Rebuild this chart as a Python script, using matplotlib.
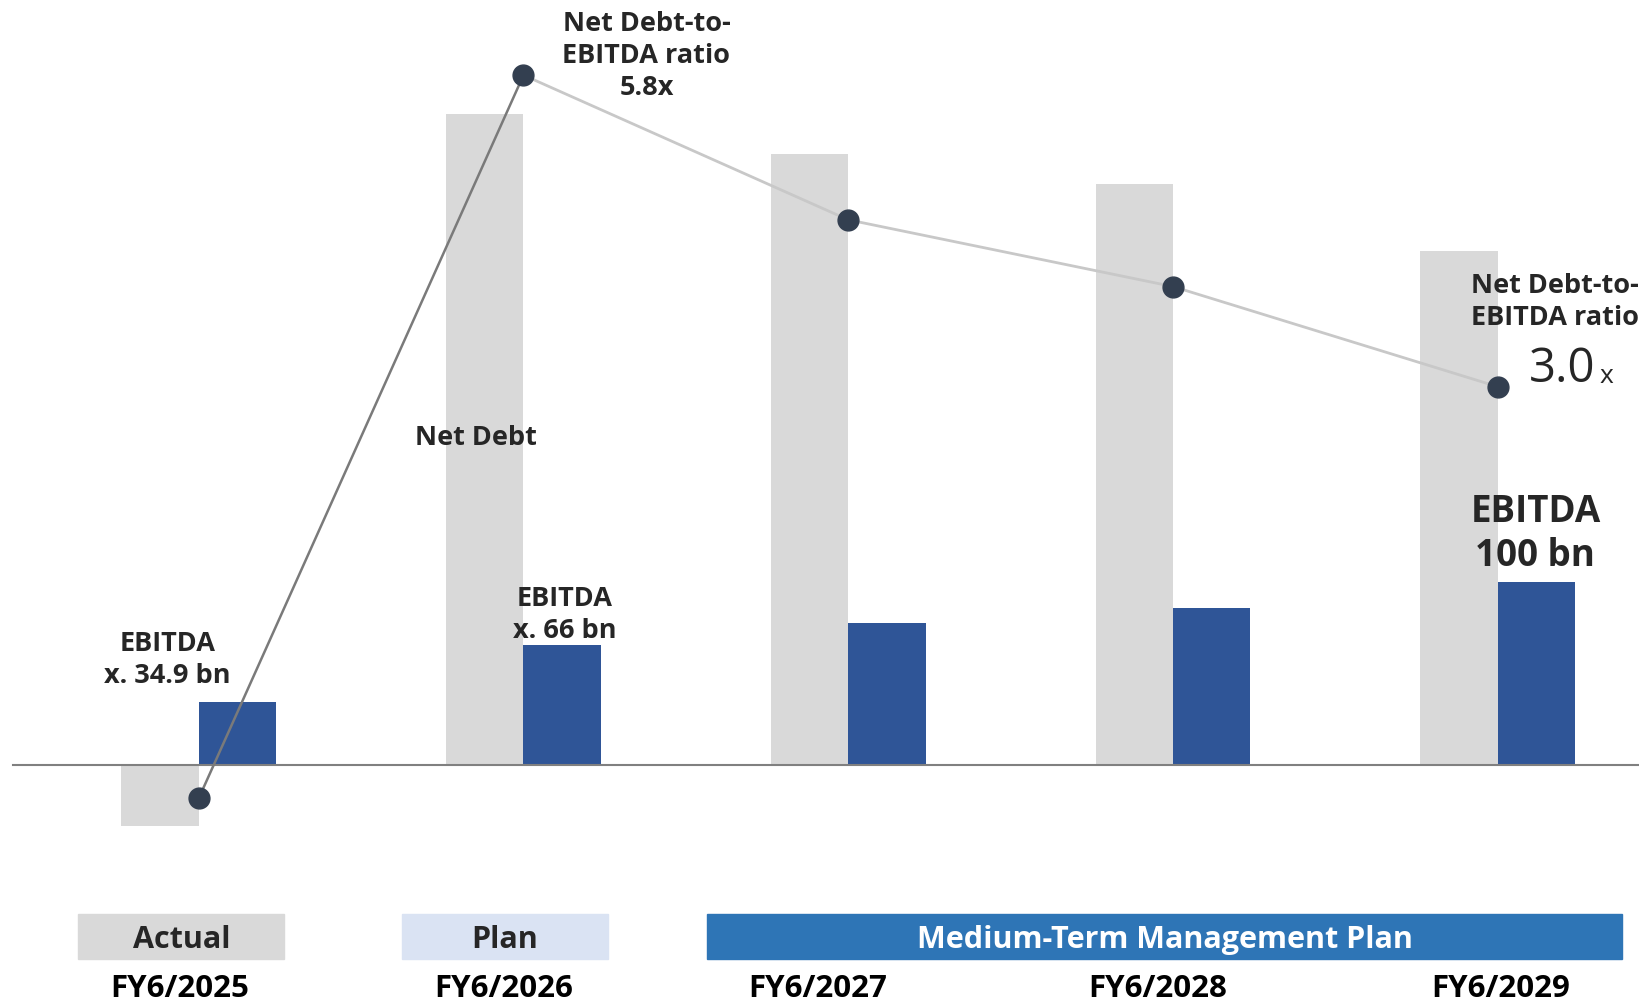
import matplotlib
matplotlib.use("Agg")
import matplotlib.pyplot as plt
from matplotlib.patches import Rectangle

plt.rcParams['font.family'] = ['Open Sans', 'DejaVu Sans']

years = ["FY6/2025", "FY6/2026", "FY6/2027", "FY6/2028", "FY6/2029"]
net_debt = [-33, 356, 334, 318, 281]        # bn
ebitda = [34.9, 66, 78, 86, 100]            # bn
ratio = [-0.7, 5.8, 4.5, 3.9, 3.0]          # x
phases = ["Actual", "Plan", "Medium-Term Management Plan"]

GRAY = "#d9d9d9"
BLUE = "#2f5597"
DOT = "#333f50"
TXT = "#262626"

W, H = 1568.0, 963.0   # design grid (displayed size)
fig = plt.figure(figsize=(16.4, 10.07), dpi=100)
ax = fig.add_axes([0, 0, 1, 1])
ax.set_axis_off()

x0, step, base, pxbn = 190.0, 310.5, 732.0, 1.75
ax.set_xlim((0 - x0) / step, (W - x0) / step)
ax.set_ylim((base - H) / pxbn, base / pxbn)

bw = 74 / step
xs = list(range(len(years)))
ax.bar([x - bw / 2 for x in xs], net_debt, width=bw, color=GRAY, zorder=2)
ax.bar([x + bw / 2 for x in xs], ebitda, width=bw, color=BLUE, zorder=2)
ax.axhline(0, xmin=12 / W, xmax=1, color="#808080", lw=1.5, zorder=3)

# ratio axis
ax2 = fig.add_axes([0, 0, 1, 1], sharex=ax)
ax2.set_axis_off()
ax2.patch.set_alpha(0)
r0, rpx = 689.0, 106.4
ax2.set_ylim((r0 - H) / rpx, r0 / rpx)
ax2.plot(xs[:2], ratio[:2], color="#7a7a7a", lw=1.8, zorder=4)
ax2.plot(xs[1:], ratio[1:], color="#c8c8c8", lw=2.0, zorder=4)
ax2.plot(xs, ratio, 'o', color=DOT, ms=15, zorder=5)

def X(px):
    return (px - x0) / step

def Y(py):
    return (base - py) / pxbn

fs = 19.5
ax.text(X(618), Y(54), "Net Debt-to-\nEBITDA ratio\n5.8x", ha="center", va="center",
        fontsize=fs, fontweight="bold", color=TXT, linespacing=1.3)
ax.text(X(455), Y(419), "Net Debt", ha="center", va="center", fontsize=fs,
        fontweight="bold", color=TXT)
ax.text(X(540), Y(588), "EBITDA\nx. 66 bn", ha="center", va="center", fontsize=fs,
        fontweight="bold", color=TXT, linespacing=1.3)
ax.text(X(160), Y(631), "EBITDA\nx. 34.9 bn", ha="center", va="center", fontsize=fs,
        fontweight="bold", color=TXT, linespacing=1.3)
ax.text(X(1468), Y(511), "EBITDA\n100 bn", ha="center", va="center", fontsize=26.5,
        fontweight="bold", color=TXT, linespacing=1.2)
ax.text(X(1406), Y(289), "Net Debt-to-\nEBITDA ratio", ha="left", va="center", fontsize=fs,
        fontweight="bold", color=TXT, linespacing=1.3)
ax.text(X(1462), Y(353), "3.0", ha="left", va="center", fontsize=34,
        fontweight="medium", color=TXT)
ax.text(X(1529), Y(360), "x", ha="left", va="center", fontsize=19,
        fontweight="medium", color=TXT)

# phase boxes
boxes = [(75, 272, GRAY, TXT), (384, 581, "#dae3f3", TXT), (676, 1551, "#2e75b6", "white")]
for (l, r, c, tc), name in zip(boxes, phases):
    ax.add_patch(Rectangle((l / W, 1 - 917 / H), (r - l) / W, 43 / H, transform=ax.transAxes,
                           color=c, zorder=1))
    ax.text((l + r) / 2 / W, 1 - 899 / H, name, transform=ax.transAxes, ha="center",
            va="center", fontsize=22, fontweight="bold", color=tc)

xlab = [172, 482, 782, 1107, 1435]
for px, lab in zip(xlab, years):
    ax.text(px / W, 1 - 946 / H, lab, transform=ax.transAxes, ha="center", va="center",
            fontsize=22.5, fontweight="bold", color="black")

fig.savefig("out.png", dpi=100)
